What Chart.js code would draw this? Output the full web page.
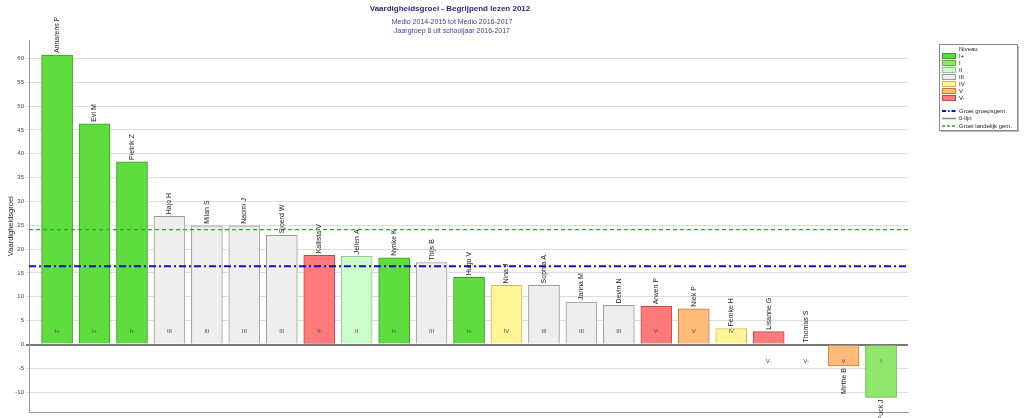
<!DOCTYPE html>
<html>
<head>
<meta charset="utf-8">
<script src="https://cdn.jsdelivr.net/npm/chart.js@4.4.1/dist/chart.umd.min.js"></script>
<style>
  html, body { margin: 0; padding: 0; background: #fff; }
  canvas { display: block; }
</style>
</head>
<body>
<canvas id="myChart" width="1024" height="418"></canvas>
<script>
// leerlingen, groei en niveau
const leerlingen = ['Annarens P', 'Evi M', 'Pietrik Z', 'Hajo H', 'Milan S', 'Naomi J', 'Sjoerd W',
  'Kallista V', 'Jelien A', 'Nynke K', 'Thijs B', 'Hugo V', 'Nina J', 'Sophia A', 'Janna M',
  'Devin N', 'Arwen P', 'Niek P', 'Femke H', 'Lisanne G', 'Thomas S', 'Mirthe B', 'Puck J'];
const groei = [60.7, 46.3, 38.3, 26.9, 24.9, 24.9, 22.9, 18.7, 18.5, 18.2, 17.2, 14.1, 12.4, 12.4,
  8.9, 8.2, 8.0, 7.5, 3.35, 2.7, 0, -4.5, -11.1];
const niveau = ['I+', 'I+', 'I+', 'III', 'III', 'III', 'III', 'V-', 'II', 'I+', 'III', 'I+', 'IV', 'III',
  'III', 'III', 'V-', 'V', 'IV', 'V-', 'V-', 'V', 'I'];
const groepsGem = 16.4;
const landelijkGem = 24.1;
const yTicks = [-10, -5, 0, 5, 10, 15, 20, 25, 30, 35, 40, 45, 50, 55, 60];
const niveauLijst = ['I+', 'I', 'II', 'III', 'IV', 'V', 'V-'];

//================================ kleuren ================================
const vulKleur = { 'I+': '#5fdc3e', 'I': '#8fe86c', 'II': '#ccfccc', 'III': '#eeeeee', 'IV': '#fff596', 'V': '#ffbb77', 'V-': '#ff7b7b' };
const randKleur = { 'I+': '#3c9a26', 'I': '#5fae40', 'II': '#8ccc8c', 'III': '#9a9a9a', 'IV': '#c9bb55', 'V': '#c47a3a', 'V-': '#c24848' };
const FONT = '"Liberation Sans", Arial, sans-serif';

const xMin = -0.75, xMax = 22.72;

const labelPlugin = {
  id: 'labels',
  afterDatasetsDraw(chart) {
    const c = chart.ctx;
    const meta = chart.getDatasetMeta(0);
    const y0 = chart.scales.y.getPixelForValue(0);
    c.save();
    meta.data.forEach(function (bar, i) {
      const v = groei[i];
      // naam, gedraaid
      c.save();
      c.font = '7px ' + FONT;
      c.fillStyle = '#222';
      c.textBaseline = 'middle';
      if (v >= 0) {
        c.translate(bar.x, Math.min(bar.y, bar.base) - 2);
        c.rotate(-Math.PI / 2);
        c.textAlign = 'left';
      } else {
        c.translate(bar.x, Math.max(bar.y, bar.base) + 2);
        c.rotate(-Math.PI / 2);
        c.textAlign = 'right';
      }
      c.fillText(leerlingen[i], 0, 0);
      c.restore();
      // niveau
      c.font = '6px ' + FONT;
      c.fillStyle = '#4a4a4a';
      c.textAlign = 'center';
      c.textBaseline = 'middle';
      const hoogte = y0 - bar.y;
      const ly = hoogte >= 15 ? y0 - 13 : y0 + 17;
      c.fillText(niveau[i], bar.x, ly);
    });
    c.restore();
  },
  afterDraw(chart) {
    const c = chart.ctx;
    c.save();
    // titel
    c.textAlign = 'center';
    c.textBaseline = 'middle';
    c.fillStyle = '#2b2b7e';
    c.font = 'bold 8px ' + FONT;
    c.fillText('Vaardigheidsgroei - Begrijpend lezen 2012', 450, 9);
    c.fillStyle = '#3d3d9a';
    c.font = '7px ' + FONT;
    c.fillText('Medio 2014-2015 tot Medio 2016-2017', 452, 22);
    c.fillText('Jaargroep 8 uit schooljaar 2016-2017', 452, 31);

    // legenda
    const lx = 939, ly = 44, lw = 78, lh = 86;
    c.fillStyle = '#bbb';
    c.fillRect(lx + 2, ly + 2, lw, lh);
    c.fillStyle = '#fff';
    c.fillRect(lx, ly, lw, lh);
    c.strokeStyle = '#888';
    c.lineWidth = 1;
    c.strokeRect(lx + 0.5, ly + 0.5, lw, lh);

    c.font = '6px ' + FONT;
    c.textAlign = 'left';
    c.fillStyle = '#222';
    c.fillText('Niveau', 959, 49);
    niveauLijst.forEach(function (n, k) {
      const ry = 56 + k * 7;
      c.fillStyle = vulKleur[n];
      c.fillRect(942.5, ry - 2.5, 13, 5);
      c.strokeStyle = randKleur[n];
      c.strokeRect(942.5, ry - 2.5, 13, 5);
      c.fillStyle = '#222';
      c.fillText(n, 959, ry);
    });
    const lijnen = [
      { t: 'Groei groepsgem.', kleur: '#1010c0', dash: [4, 2, 1.5, 2], w: 2 },
      { t: '0-lijn', kleur: '#888', dash: [], w: 1.5 },
      { t: 'Groei landelijk gem.', kleur: '#22aa22', dash: [3, 2], w: 1.5 }
    ];
    lijnen.forEach(function (l, k) {
      const ry = 111 + k * 7.5;
      c.beginPath();
      c.setLineDash(l.dash);
      c.strokeStyle = l.kleur;
      c.lineWidth = l.w;
      c.moveTo(942, ry);
      c.lineTo(956, ry);
      c.stroke();
      c.setLineDash([]);
      c.fillStyle = '#222';
      c.fillText(l.t, 959, ry);
    });
    c.restore();
  }
};

var ctx = document.getElementById('myChart').getContext('2d');
var chart = new Chart(ctx, {
  type: 'bar',
  data: {
    datasets: [{
      label: 'Vaardigheidsgroei',
      data: groei.map(function (v, i) { return { x: i, y: v }; }),
      backgroundColor: niveau.map(function (n) { return vulKleur[n]; }),
      borderColor: niveau.map(function (n) { return randKleur[n]; }),
      borderWidth: 1,
      barThickness: 31,
      order: 2
    },
    {
      type: 'line',
      label: 'Groei groepsgem.',
      data: [{ x: xMin, y: groepsGem }, { x: xMax, y: groepsGem }],
      borderColor: '#1010c0',
      borderWidth: 2,
      borderDash: [7, 3, 2, 3],
      pointRadius: 0,
      order: 0
    },
    {
      type: 'line',
      label: 'Groei landelijk gem.',
      data: [{ x: xMin, y: landelijkGem }, { x: xMax, y: landelijkGem }],
      borderColor: '#22aa22',
      borderWidth: 1.2,
      borderDash: [4, 3],
      pointRadius: 0,
      order: 1
    }]
  },
  options: {
    responsive: false,
    animation: false,
    devicePixelRatio: 1,
    layout: { padding: { top: 40, right: 116, left: 0, bottom: 0 } },
    plugins: { legend: { display: false }, tooltip: { enabled: false } },
    scales: {
      x: {
        type: 'linear',
        min: xMin,
        max: xMax,
        offset: false,
        ticks: { display: false },
        grid: { display: false, offset: false },
        border: { display: true, color: '#999', width: 1 },
        afterFit: function (s) { s.height = 5; }
      },
      y: {
        min: -14.24,
        max: 63.87,
        afterBuildTicks: function (s) { s.ticks = yTicks.map(function (v) { return { value: v }; }); },
        afterFit: function (s) { s.width = 29; },
        ticks: { color: '#444', font: { family: FONT, size: 6 }, padding: 2 },
        grid: {
          color: function (c) { return c.tick && c.tick.value === 0 ? '#777' : '#dcdcdc'; },
          lineWidth: function (c) { return c.tick && c.tick.value === 0 ? 2 : 1; },
          tickLength: 3
        },
        border: { color: '#999', width: 1 },
        title: { display: true, text: 'Vaardigheidsgroei', color: '#222', font: { family: FONT, size: 7.5 }, padding: { top: 6, bottom: 0 } }
      }
    }
  },
  plugins: [labelPlugin]
});
</script>
</body>
</html>
